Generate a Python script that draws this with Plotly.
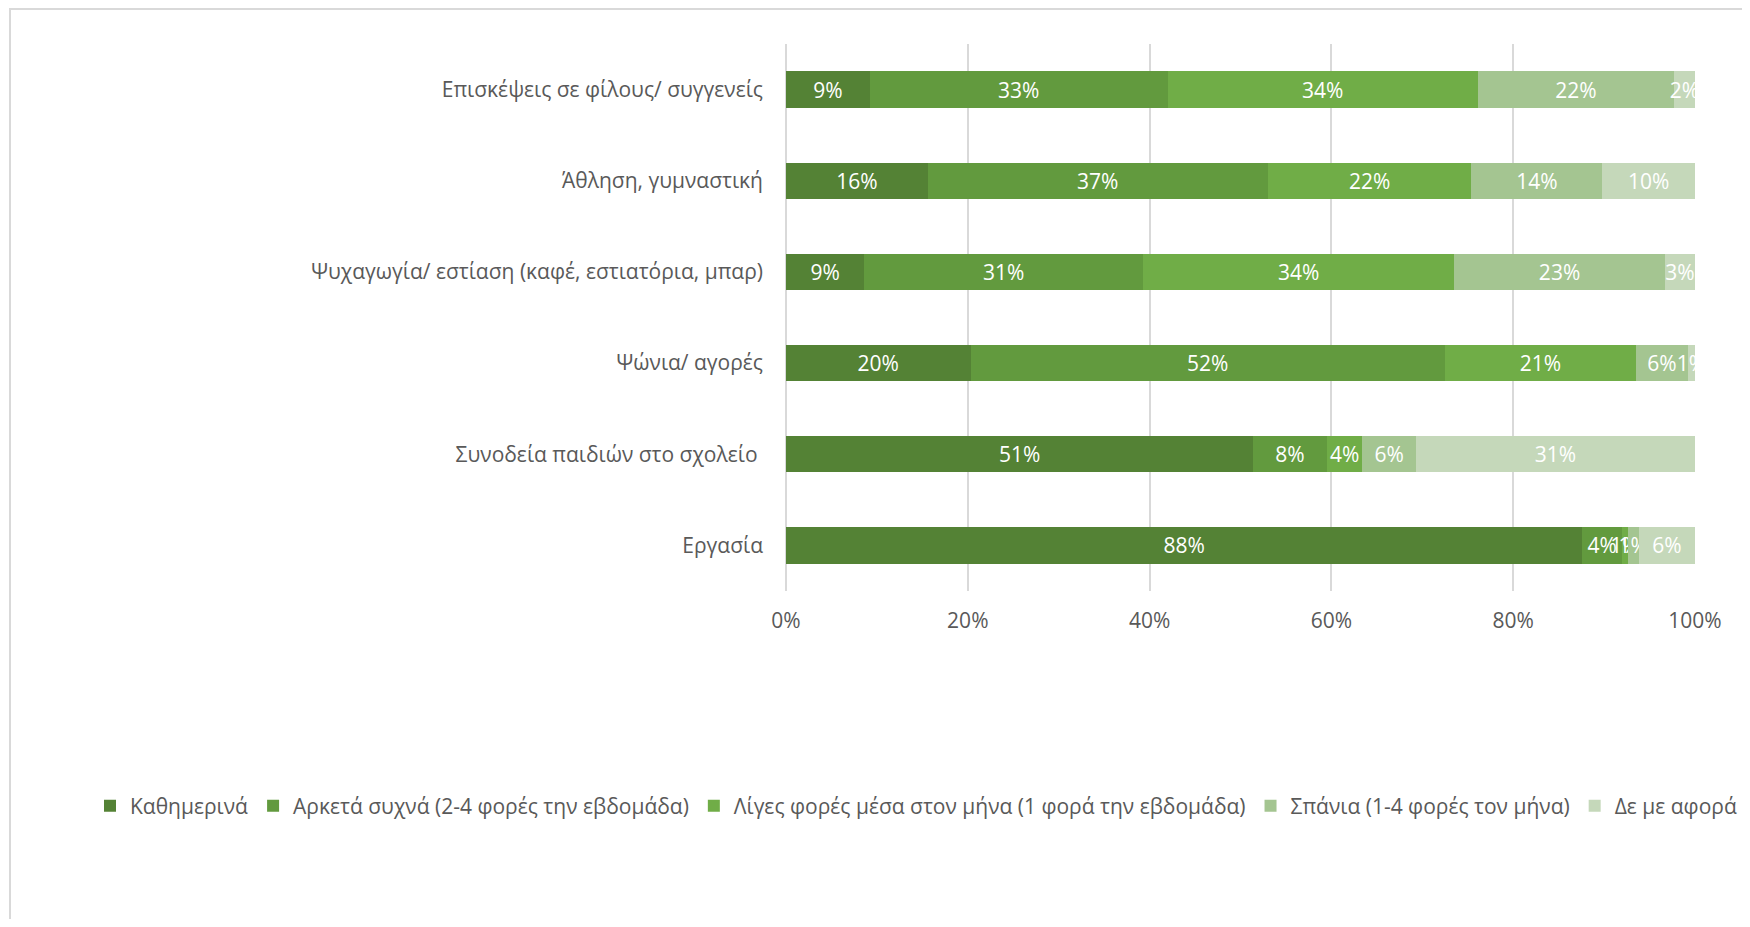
import plotly.graph_objects as go

categories = [
    "Επισκέψεις σε φίλους/ συγγενείς",
    "Άθληση, γυμναστική",
    "Ψυχαγωγία/ εστίαση (καφέ, εστιατόρια, μπαρ)",
    "Ψώνια/ αγορές",
    "Συνοδεία παιδιών στο σχολείο ",
    "Εργασία",
]
series_names = [
    "Καθημερινά",
    "Αρκετά συχνά (2-4 φορές την εβδομάδα)",
    "Λίγες φορές μέσα στον μήνα (1 φορά την εβδομάδα)",
    "Σπάνια (1-4 φορές τον μήνα)",
    "Δε με αφορά",
]
kathimerina = [9.2, 15.6, 8.6, 20.3, 51.4, 87.6]
arketa_sixna = [32.8, 37.4, 30.7, 52.2, 8.1, 4.4]
liges_fores = [34.1, 22.4, 34.2, 21.0, 3.9, 0.6]
spania = [21.6, 14.4, 23.2, 5.7, 5.9, 1.2]
de_me_afora = [2.3, 10.2, 3.3, 0.8, 30.7, 6.2]
tick_vals = [0, 20, 40, 60, 80, 100]
tick_text = ["0%", "20%", "40%", "60%", "80%", "100%"]

colors = ["#548235", "#629A3E", "#70AD47", "#A4C591", "#C5D8BA"]
series = [kathimerina, arketa_sixna, liges_fores, spania, de_me_afora]

FONT = "Open Sans"
GRAY = "#595959"
FS = 21

W, H = 1734, 911
ML, MR, MT, MB = 778, 47, 36, 328
PW, PH = W - ML - MR, H - MT - MB

def px_x(x):
    return (x - ML) / PW

def px_y(y):
    return 1 - (y - MT) / PH

fig = go.Figure()
for name, vals, col in zip(series_names, series, colors):
    fig.add_trace(go.Bar(
        y=categories, x=vals, name=name, orientation="h",
        marker=dict(color=col, line=dict(width=0)),
        text=vals, texttemplate="%{x:.0f}%",
        textposition="inside", insidetextanchor="middle",
        constraintext="none", textangle=0,
        textfont=dict(color="white", size=FS, family=FONT),
        hoverinfo="x+y",
    ))

fig.update_layout(
    barmode="stack",
    bargap=0.6,
    width=W, height=H,
    margin=dict(l=ML, r=MR, t=MT, b=MB),
    paper_bgcolor="white", plot_bgcolor="white",
    font=dict(family=FONT, size=FS, color=GRAY),
    showlegend=True,
    legend=dict(orientation="h", x=px_x(106), xanchor="left", y=px_y(798), yanchor="middle",
                font=dict(size=FS, color=GRAY, family=FONT), traceorder="normal",
                itemwidth=30, bgcolor="rgba(0,0,0,0)"),
    xaxis=dict(range=[0, 100], tickvals=tick_vals, ticktext=tick_text,
               showgrid=True, gridcolor="#D9D9D9", gridwidth=1.5,
               zeroline=True, zerolinecolor="#D9D9D9", zerolinewidth=1.5,
               showline=False, ticks="", ticklabelstandoff=15,
               tickfont=dict(size=FS, color=GRAY)),
    yaxis=dict(autorange="reversed", showgrid=False, ticks="",
               ticklabelstandoff=22, tickfont=dict(size=FS, color=GRAY)),
    shapes=[
        dict(type="line", xref="paper", yref="paper",
             x0=px_x(1), x1=px_x(W + 10), y0=px_y(1), y1=px_y(1),
             line=dict(color="#D9D9D9", width=2)),
        dict(type="line", xref="paper", yref="paper",
             x0=px_x(2), x1=px_x(2), y0=px_y(1), y1=px_y(H + 10),
             line=dict(color="#D9D9D9", width=2)),
    ],
)

fig.write_html("out.html")
